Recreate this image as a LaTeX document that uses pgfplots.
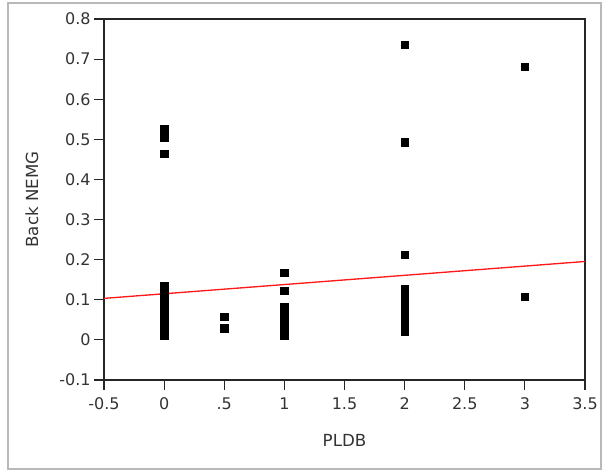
\documentclass[border=0pt]{standalone}
\usepackage{pgfplots}
\pgfplotsset{compat=1.18}
\usepackage{fontspec}
\setmainfont{DejaVu Sans}
\begin{document}
\begin{tikzpicture}[x=0.75pt,y=0.75pt]
\path[use as bounding box] (0,0) rectangle (605,472);
\draw[gray!55,line width=1.2pt] (8,3) rectangle (601,469);
\begin{axis}[
  at={(104pt*0.75,92pt*0.75)}, anchor=south west,
  width=481*0.75pt, height=361*0.75pt, scale only axis,
  xmin=-0.5, xmax=3.5, ymin=-0.1, ymax=0.8,
  xtick={-0.5,0,0.5,1,1.5,2,2.5,3,3.5},
  xticklabels={-0.5,0,.5,1,1.5,2,2.5,3,3.5},
  ytick={-0.1,0,0.1,0.2,0.3,0.4,0.5,0.6,0.7,0.8},
  yticklabels={-0.1,0,0.1,0.2,0.3,0.4,0.5,0.6,0.7,0.8},
  tick pos=left, tick align=outside,
  major tick length=7.5pt,
  axis line style={line width=0.9pt, black!85},
  every tick/.style={line width=0.9pt, black!85},
  tick label style={font=\fontsize{12}{14}\selectfont, text=black!80},
  xticklabel style={yshift=-2.5pt},
  yticklabel style={xshift=1pt},
  xlabel={PLDB}, ylabel={Back NEMG},
  label style={font=\fontsize{12.5}{14}\selectfont, text=black!80},
  xlabel style={at={(axis description cs:0.5,-0.166)}, anchor=center},
  ylabel style={at={(axis description cs:-0.15,0.5)}, anchor=center},
  clip=false,
]
\addplot[red!90, line width=1pt] coordinates {(-0.5,0.1035) (3.5,0.1955)};
\addplot[only marks, mark=square*, mark size=2.8pt, black] coordinates {
 (0,0.527) (0,0.515) (0,0.505) (0,0.464)
 (0,0.135) (0,0.125) (0,0.115) (0,0.105) (0,0.095) (0,0.085) (0,0.075)
 (0,0.065) (0,0.055) (0,0.045) (0,0.035) (0,0.025) (0,0.015) (0,0.011)
 (0.5,0.057) (0.5,0.029)
 (1,0.168) (1,0.122) (1,0.081) (1,0.074) (1,0.066)
 (1,0.044) (1,0.035) (1,0.027) (1,0.019) (1,0.011)
 (2,0.736) (2,0.4925) (2,0.212)
 (2,0.128) (2,0.118) (2,0.108) (2,0.099) (2,0.091)
 (2,0.069) (2,0.060) (2,0.050) (2,0.040) (2,0.030) (2,0.021)
 (3,0.681) (3,0.108)
};
\end{axis}
\end{tikzpicture}
\end{document}
